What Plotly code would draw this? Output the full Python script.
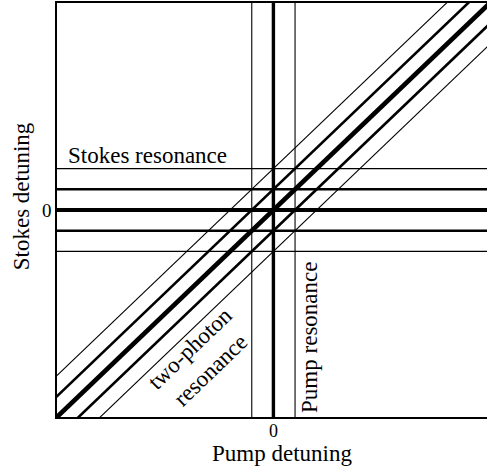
import plotly.graph_objects as go

# --- data (detuning units) ---
stokes_levels = [-2, -1, 0, 1, 2]          # horizontal Stokes-resonance lines
stokes_kind = ["thin", "medium", "thick", "medium", "thin"]
pump_levels = [-1, 0, 1]                   # vertical pump-resonance lines
pump_kind = ["thin", "thick", "thin"]
twophoton_offsets = [-2, -1, 0, 1, 2]      # diagonal lines y = x + c
twophoton_kind = ["thin", "medium", "thick", "medium", "thin"]
x_range = [-10, 9.87]
y_range = [-10, 10]
tick_vals = [0]
tick_text = ["0"]

WIDTH = {"thin": 1.1, "medium": 2.6, "thick": 4.0}
FONT = "Liberation Serif, Times New Roman, serif"

fig = go.Figure()

for y, k in zip(stokes_levels, stokes_kind):
    fig.add_trace(go.Scatter(x=[-12, 12], y=[y, y], mode="lines",
                             line=dict(color="black", width=WIDTH[k]),
                             showlegend=False, hoverinfo="skip"))
for x, k in zip(pump_levels, pump_kind):
    fig.add_trace(go.Scatter(x=[x, x], y=[-12, 12], mode="lines",
                             line=dict(color="black", width=WIDTH[k] if k != "thick" else 3.4),
                             showlegend=False, hoverinfo="skip"))
for c, k in zip(twophoton_offsets, twophoton_kind):
    fig.add_trace(go.Scatter(x=[-14, 14], y=[-14 + c, 14 + c], mode="lines",
                             line=dict(color="black", width=WIDTH[k] + (0.6 if k == "thick" else 0)),
                             showlegend=False, hoverinfo="skip"))

fig.update_layout(
    width=487, height=467,
    margin=dict(l=57, r=0, t=3, b=50),
    paper_bgcolor="white", plot_bgcolor="white",
    font=dict(family=FONT, size=23, color="black"),
    xaxis=dict(range=x_range, showgrid=False, zeroline=False,
               showline=True, linecolor="black", linewidth=1.5, mirror=True,
               tickvals=tick_vals, ticktext=tick_text, ticks="",
               ticklabelstandoff=-3,
               tickfont=dict(family=FONT, size=18)),
    yaxis=dict(range=y_range, showgrid=False, zeroline=False,
               showline=True, linecolor="black", linewidth=1.5,
               tickvals=tick_vals, ticktext=tick_text, ticks="",
               tickfont=dict(family=FONT, size=19)),
)

ann = dict(showarrow=False, font=dict(family=FONT, size=23, color="black"))
fig.add_annotation(text="Pump detuning", xref="paper", yref="paper",
                   x=(281.5 - 57) / 430, y=(417 - 453) / 413.5,
                   xanchor="center", yanchor="middle", **ann)
fig.add_annotation(text="Stokes detuning", xref="paper", yref="paper",
                   x=(21 - 57) / 430, y=(417 - 196.5) / 413.5, textangle=-90,
                   xanchor="center", yanchor="middle", **ann)
fig.add_annotation(text="Stokes resonance", xref="x", yref="y",
                   x=-5.83, y=2.62, xanchor="center", yanchor="middle", **ann)
fig.add_annotation(text="Pump resonance", xref="x", yref="y",
                   x=1.7, y=-6.17, textangle=-90,
                   xanchor="center", yanchor="middle", **ann)
fig.add_annotation(text="two-photon<br>resonance", xref="x", yref="y",
                   x=-3.39, y=-7.2, textangle=-44, align="center",
                   xanchor="center", yanchor="middle", **ann)

fig.write_html("out.html")
